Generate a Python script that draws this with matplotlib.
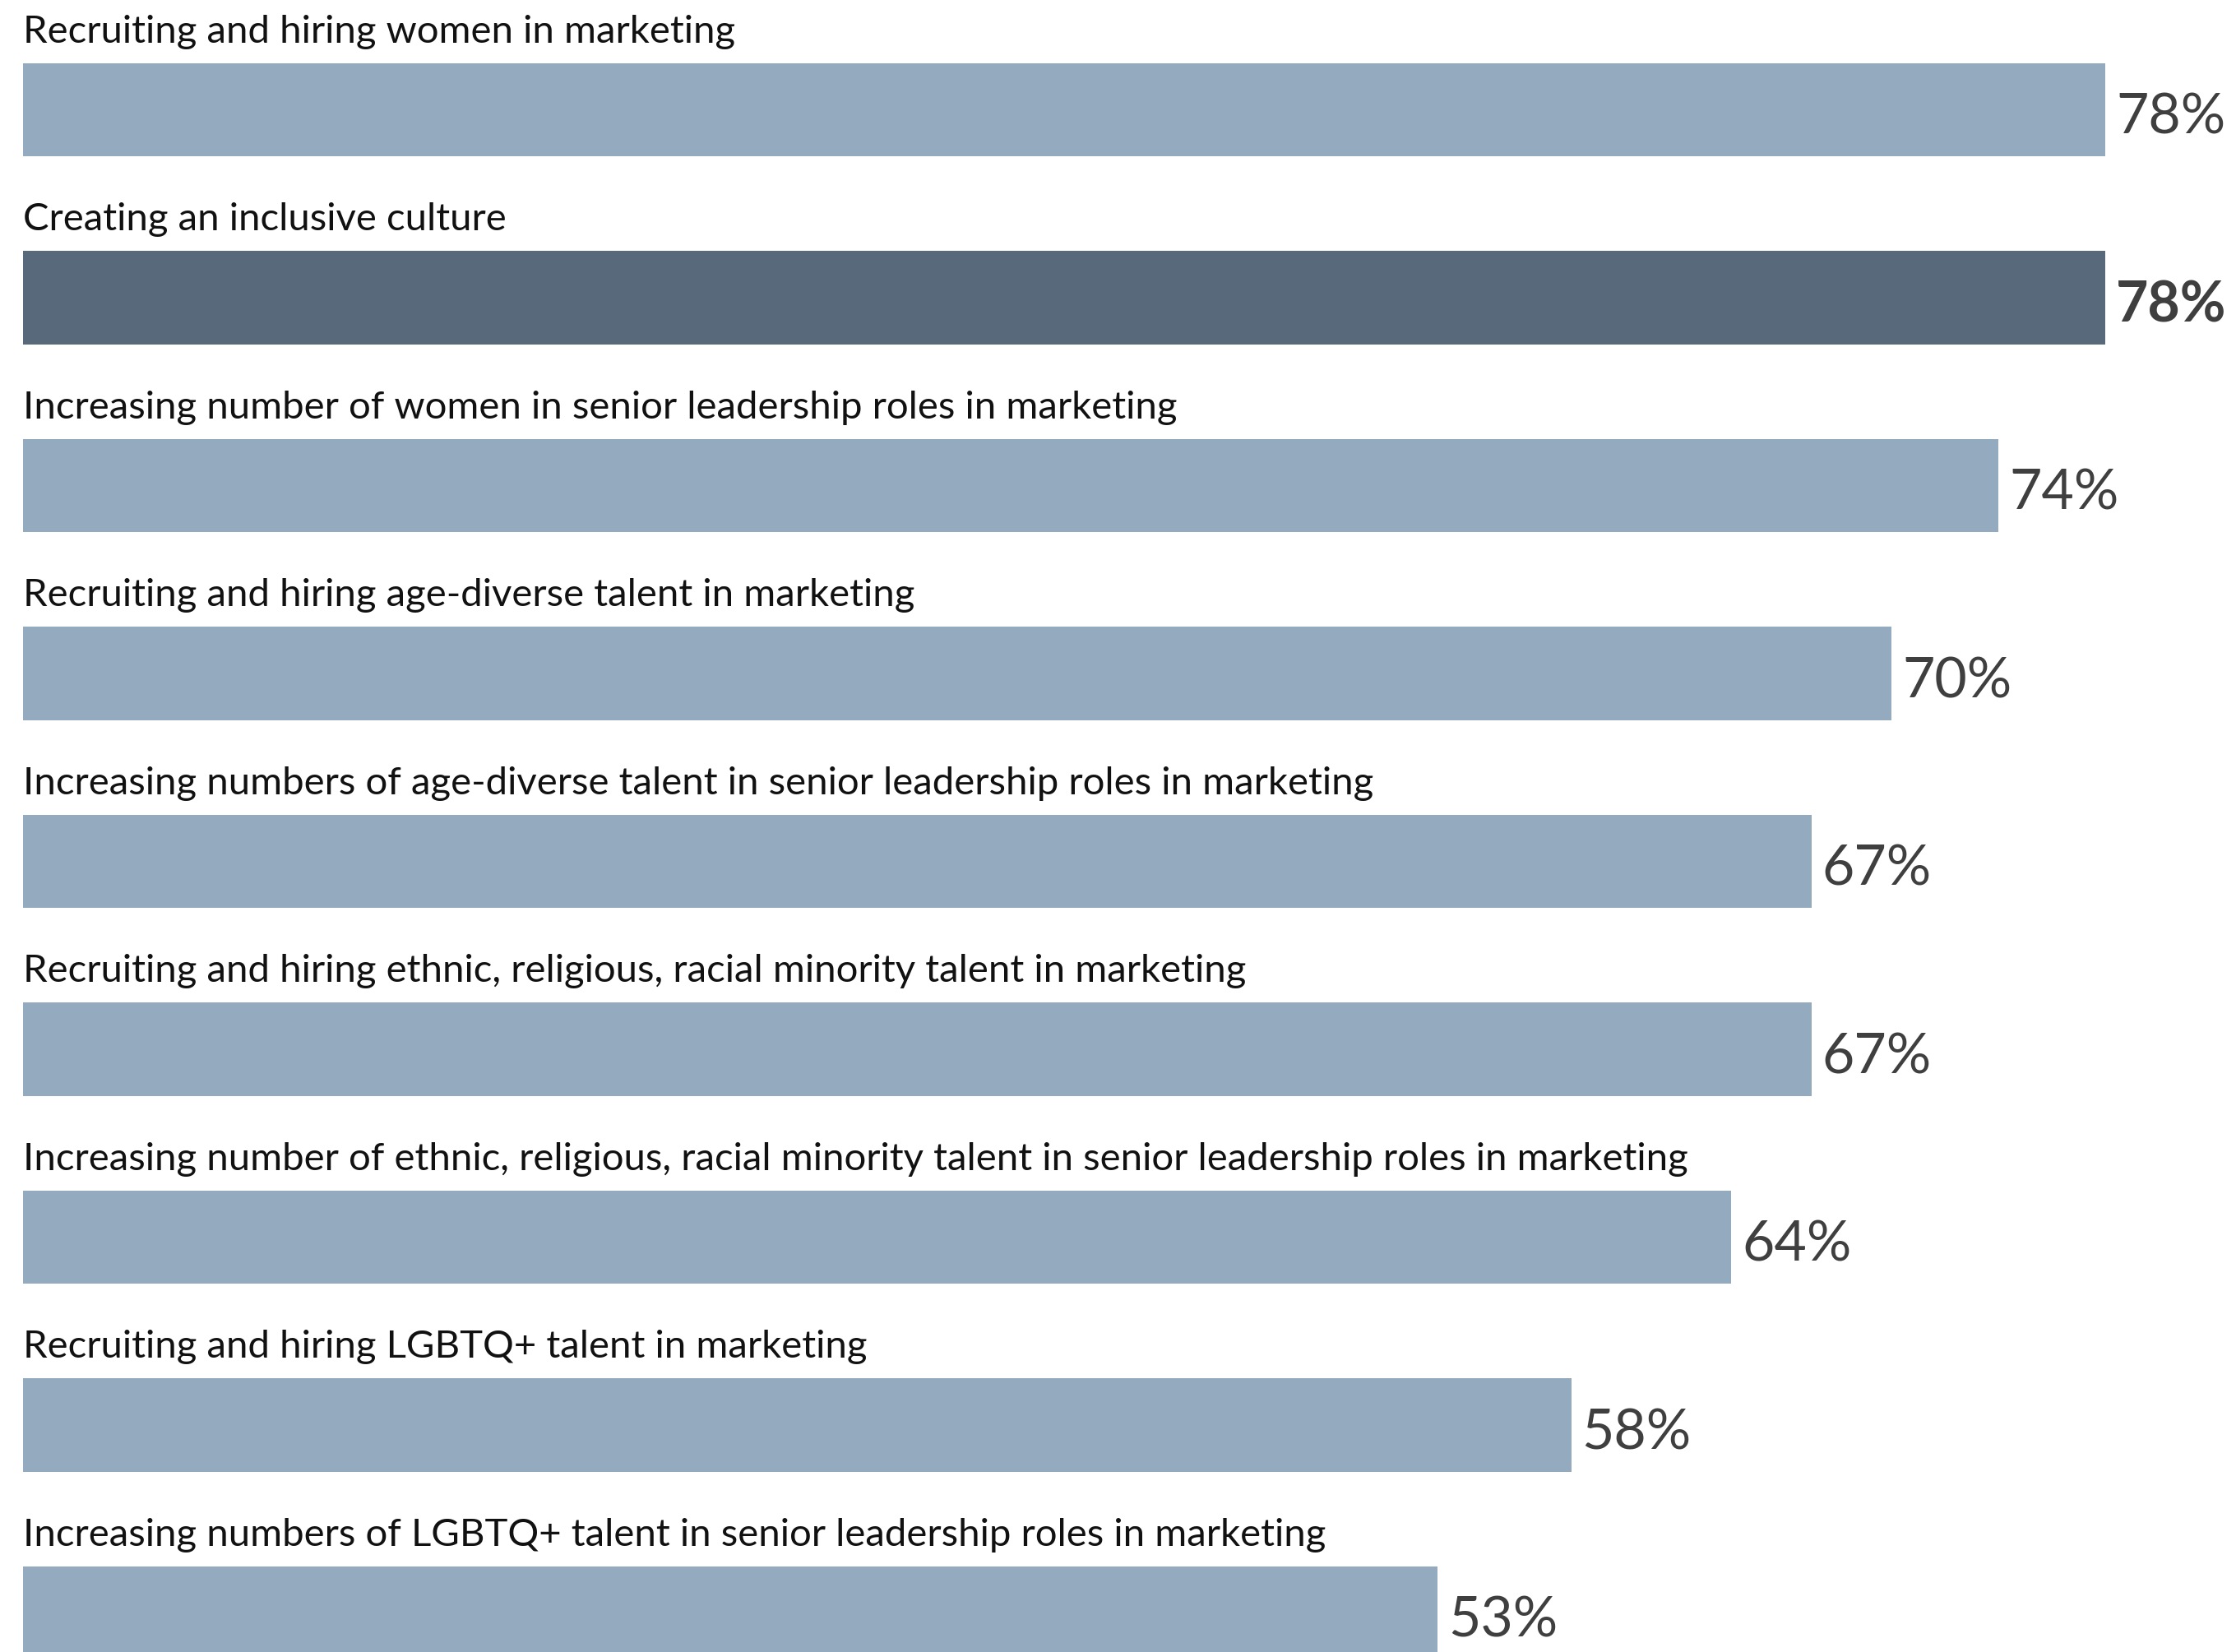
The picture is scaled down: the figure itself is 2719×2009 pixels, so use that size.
import matplotlib
matplotlib.use("Agg")
import matplotlib.pyplot as plt

# survey data
categories = [
    "Recruiting and hiring women in marketing",
    "Creating an inclusive culture",
    "Increasing number of women in senior leadership roles in marketing",
    "Recruiting and hiring age-diverse talent in marketing",
    "Increasing numbers of age-diverse talent in senior leadership roles in marketing",
    "Recruiting and hiring ethnic, religious, racial minority talent in marketing",
    "Increasing number of ethnic, religious, racial minority talent in senior leadership roles in marketing",
    "Recruiting and hiring LGBTQ+ talent in marketing",
    "Increasing numbers of LGBTQ+ talent in senior leadership roles in marketing",
]
values = [78, 78, 74, 70, 67, 67, 64, 58, 53]
highlight = 1  # the bold / dark bar

light = "#94aabf"
dark = "#58697b"

plt.rcParams['font.family'] = ['Lato', 'DejaVu Sans']

fig = plt.figure(figsize=(27.19, 20.09), dpi=100)
ax = fig.add_axes([0, 0, 1, 1])

pos = list(range(len(values)))
colors = [dark if i == highlight else light for i in pos]
ax.barh(pos, values, height=0.495, color=colors)

for i, (cat, v) in enumerate(zip(categories, values)):
    ax.text(0, i - 0.357, cat, fontsize=34, color="#111111",
            fontweight="normal", va="baseline", ha="left")
    ax.text(v + 0.4, i + 0.129, f"{v}%", fontsize=49, color="#3f3f3f",
            fontweight="bold" if i == highlight else "normal",
            va="baseline", ha="left")

ax.set_xlim(-0.863, 82.9)
ax.set_ylim(8.208, -0.584)
ax.axis("off")

fig.savefig("out.png", dpi=100)
